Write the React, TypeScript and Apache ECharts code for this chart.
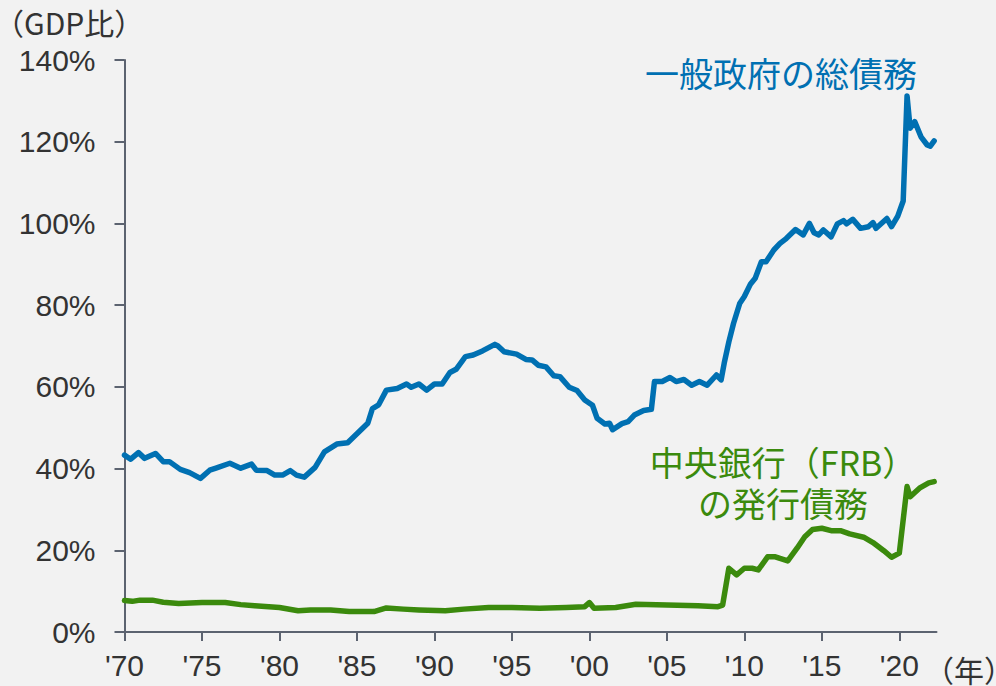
import React, { useEffect, useRef } from "react";
import * as echarts from "echarts";

// General government gross debt (% of GDP): [year, value]
const govDebt: [number, number][] = [
  [1970.0, 43.3], [1970.4, 42.3], [1970.9, 43.9], [1971.3, 42.5], [1972.0, 43.7],
  [1972.5, 41.7], [1972.9, 41.7], [1973.6, 39.8], [1974.2, 39.0], [1974.9, 37.6],
  [1975.5, 39.6], [1975.9, 40.1], [1976.8, 41.3], [1977.5, 40.1], [1978.2, 41.1],
  [1978.5, 39.6], [1979.2, 39.5], [1979.7, 38.4], [1980.2, 38.4], [1980.7, 39.5],
  [1981.1, 38.4], [1981.6, 37.9], [1982.3, 40.3], [1982.9, 44.1], [1983.7, 46.0],
  [1984.4, 46.3], [1985.0, 48.5], [1985.7, 51.1], [1986.0, 54.7], [1986.4, 55.6],
  [1986.9, 59.2], [1987.6, 59.6], [1988.2, 60.7], [1988.5, 59.9], [1989.0, 60.7],
  [1989.5, 59.2], [1990.0, 60.7], [1990.5, 60.7], [1991.0, 63.5], [1991.4, 64.3],
  [1992.0, 67.4], [1992.5, 67.8], [1993.1, 68.8], [1993.9, 70.4], [1994.1, 70.0],
  [1994.5, 68.6], [1995.3, 68.0], [1995.9, 66.7], [1996.3, 66.6], [1996.7, 65.3],
  [1997.2, 64.9], [1997.7, 62.7], [1998.1, 62.5], [1998.7, 59.9], [1999.2, 59.1],
  [1999.7, 56.8], [2000.2, 55.5], [2000.5, 52.3], [2001.0, 50.9], [2001.3, 51.1],
  [2001.5, 49.5], [2002.1, 51.0], [2002.5, 51.5], [2002.9, 53.1], [2003.5, 54.2],
  [2004.0, 54.5], [2004.2, 61.3], [2004.7, 61.3], [2005.2, 62.3], [2005.6, 61.3],
  [2006.1, 61.8], [2006.6, 60.4], [2007.1, 61.3], [2007.6, 60.4], [2008.2, 62.9],
  [2008.5, 61.7], [2008.7, 65.8], [2009.0, 71.0], [2009.3, 75.5], [2009.7, 80.4],
  [2010.0, 82.1], [2010.4, 85.2], [2010.7, 86.6], [2011.1, 90.6], [2011.4, 90.6],
  [2011.9, 93.5], [2012.3, 95.1], [2012.7, 96.3], [2013.3, 98.5], [2013.8, 97.2],
  [2014.2, 100.0], [2014.5, 97.7], [2014.8, 97.2], [2015.1, 98.4], [2015.6, 96.7],
  [2016.0, 99.9], [2016.4, 100.7], [2016.6, 99.9], [2017.0, 101.0], [2017.5, 98.8],
  [2018.0, 99.2], [2018.3, 100.2], [2018.5, 98.8], [2019.2, 101.2], [2019.5, 99.2],
  [2019.9, 101.8], [2020.25, 105.5], [2020.5, 131.2], [2020.7, 123.3], [2021.0, 124.9],
  [2021.4, 121.2], [2021.8, 119.2], [2022.0, 118.9], [2022.25, 120.2],
];

// Central bank (FRB) liabilities (% of GDP): [year, value]
const frbDebt: [number, number][] = [
  [1970.0, 7.7], [1970.5, 7.5], [1971.0, 7.8], [1971.8, 7.8], [1972.5, 7.3],
  [1973.5, 7.0], [1975.0, 7.2], [1976.5, 7.2], [1977.5, 6.7], [1978.4, 6.4],
  [1980.0, 6.0], [1981.2, 5.2], [1982.0, 5.4], [1983.3, 5.4], [1984.5, 5.0],
  [1986.1, 5.0], [1986.9, 5.9], [1988.0, 5.6], [1989.0, 5.4], [1990.7, 5.2],
  [1991.9, 5.6], [1993.5, 6.0], [1995.0, 6.0], [1996.8, 5.8], [1998.5, 6.0],
  [1999.7, 6.2], [2000.0, 7.2], [2000.3, 5.8], [2001.7, 6.0], [2003.0, 6.8],
  [2005.0, 6.6], [2007.0, 6.4], [2008.3, 6.2], [2008.6, 6.6], [2009.0, 15.6],
  [2009.5, 14.0], [2010.0, 15.6], [2010.5, 15.6], [2010.9, 15.2], [2011.5, 18.4],
  [2012.0, 18.4], [2012.3, 18.0], [2012.8, 17.4], [2013.4, 20.5], [2013.9, 23.3],
  [2014.4, 25.1], [2015.0, 25.4], [2015.6, 24.8], [2016.2, 24.8], [2016.8, 24.0],
  [2017.7, 23.2], [2018.3, 21.9], [2019.0, 19.9], [2019.5, 18.3], [2020.0, 19.3],
  [2020.5, 35.6], [2020.7, 33.1], [2021.3, 35.2], [2021.9, 36.5], [2022.25, 36.8],
];

const xTickYears = [1970, 1975, 1980, 1985, 1990, 1995, 2000, 2005, 2010, 2015, 2020];
const yTicks = [0, 20, 40, 60, 80, 100, 120, 140];

const govLabel = "一般政府の総債務";
const frbLabel = ["中央銀行（FRB）", "の発行債務"];
const yUnit = "（GDP比）";
const xUnit = "（年）";

const BLUE = "#0070b2";
const GREEN = "#3b8a0d";
const AXIS = "#5c6370";
const TEXT = "#333333";
const CJK = "'Noto Sans CJK JP', 'Liberation Sans', sans-serif";
const LAT = "'Liberation Sans', Arial, sans-serif";

export default function App() {
  const ref = useRef<HTMLDivElement>(null);
  useEffect(() => {
    if (!ref.current) return;
    const chart = echarts.init(ref.current, null, { renderer: "svg" });
    chart.setOption({
      animation: false,
      backgroundColor: "#f2f2f2",
      grid: { left: 124.5, right: 59.5, top: 60, bottom: 54 },
      xAxis: {
        type: "value",
        min: 1970,
        max: 2022.4,
        splitLine: { show: false },
        axisLine: { show: true, lineStyle: { color: AXIS, width: 2 } },
        axisTick: {
          show: true,
          length: 9,
          lineStyle: { color: AXIS, width: 2 },
          customValues: xTickYears,
        },
        axisLabel: {
          customValues: xTickYears,
          color: TEXT,
          fontSize: 30,
          fontFamily: LAT,
          margin: 18,
          formatter: (v: number) => "'" + String(Math.round(v) % 100).padStart(2, "0"),
        },
      },
      yAxis: {
        type: "value",
        min: 0,
        max: 140,
        interval: 20,
        splitLine: { show: false },
        axisLine: { show: true, lineStyle: { color: AXIS, width: 2 } },
        axisTick: {
          show: true,
          length: 10,
          lineStyle: { color: AXIS, width: 2 },
          customValues: yTicks,
        },
        axisLabel: {
          customValues: yTicks,
          color: TEXT,
          fontSize: 30,
          fontFamily: LAT,
          margin: 29,
          formatter: (v: number) => v + "%",
        },
      },
      series: [
        {
          type: "line",
          data: frbDebt,
          showSymbol: false,
          lineStyle: { color: GREEN, width: 5.5, join: "round", cap: "round" },
          z: 3,
        },
        {
          type: "line",
          data: govDebt,
          showSymbol: false,
          lineStyle: { color: BLUE, width: 5.5, join: "round", cap: "round" },
          z: 4,
        },
      ],
      graphic: [
        {
          type: "text",
          x: -6,
          y: 22,
          style: { text: yUnit, fill: TEXT, font: `30px ${CJK}`, lineHeight: 32, textVerticalAlign: "middle" },
        },
        {
          type: "text",
          x: 924,
          y: 669,
          style: { text: xUnit, fill: TEXT, font: `30px ${CJK}`, lineHeight: 32, textVerticalAlign: "middle" },
        },
        {
          type: "text",
          x: 645,
          y: 72,
          style: { text: govLabel, fill: BLUE, font: `34px ${CJK}`, lineHeight: 36, textVerticalAlign: "middle" },
        },
        {
          type: "text",
          x: 783,
          y: 481.5,
          style: {
            text: frbLabel.join("\n"),
            fill: GREEN,
            font: `34px ${CJK}`,
            lineHeight: 41,
            textAlign: "center",
            textVerticalAlign: "middle",
          },
        },
      ],
    });
    return () => chart.dispose();
  }, []);
  return (
    <div
      ref={ref}
      style={{ position: "fixed", left: 0, top: 0, width: 996, height: 686, background: "#f2f2f2" }}
    />
  );
}
